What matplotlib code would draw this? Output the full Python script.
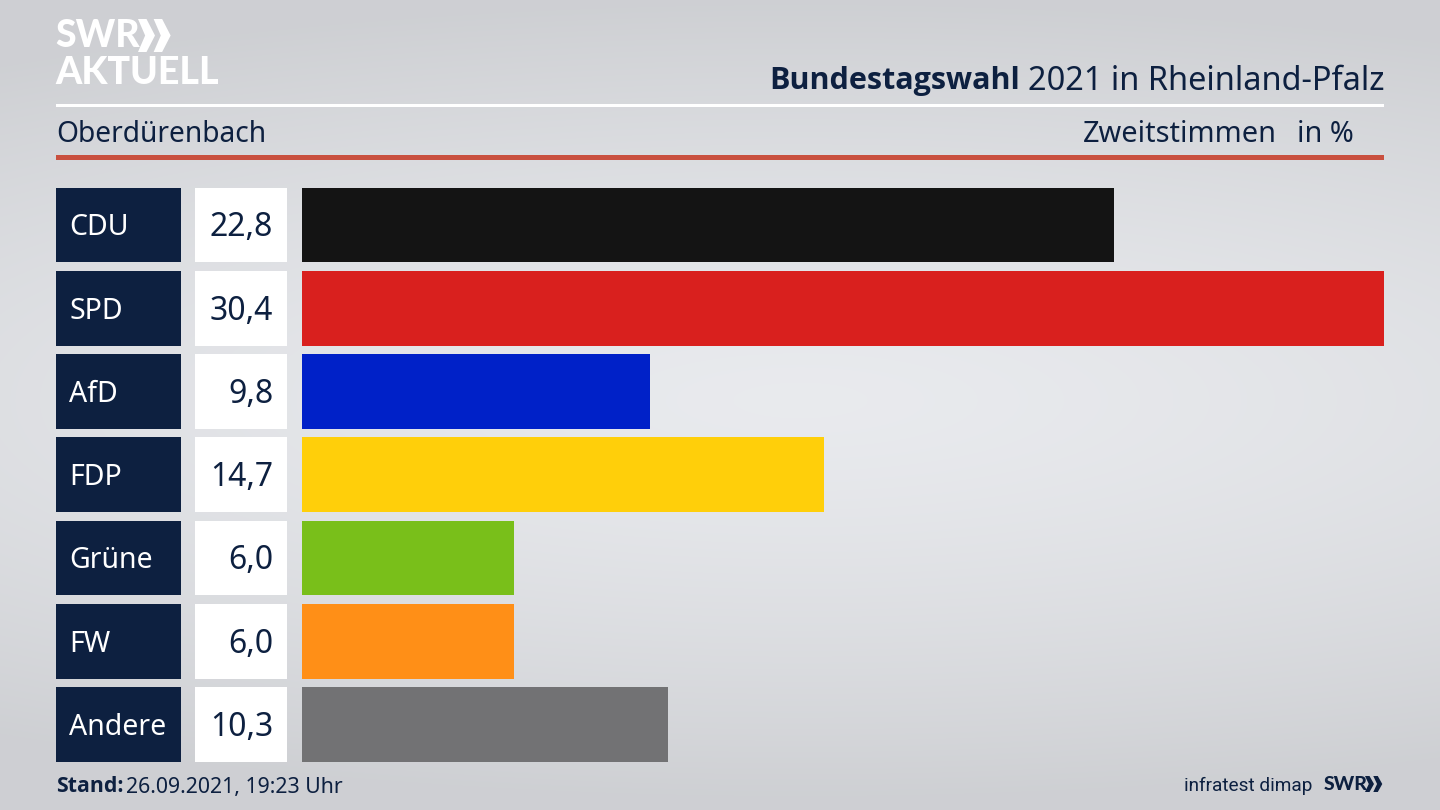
import numpy as np
import matplotlib
matplotlib.use("Agg")
import matplotlib.pyplot as plt
from matplotlib.patches import Polygon, Rectangle

parties = ["CDU", "SPD", "AfD", "FDP", "Grüne", "FW", "Andere"]
values = [22.82, 30.4, 9.78, 14.66, 5.96, 5.96, 10.3]
colors = ["#141414", "#d9201e", "#0021c8", "#ffcf0a", "#79bf1a", "#ff8f17", "#727274"]

W, H = 1440, 810
NAVY = "#0d2040"
plt.rcParams["font.family"] = ["Noto Sans", "DejaVu Sans"]

fig = plt.figure(figsize=(W / 100, H / 100), dpi=100)


def px_axes(x0, y0, x1, y1):
    # axes from pixel box, y counted from the top
    return fig.add_axes([x0 / W, 1 - y1 / H, (x1 - x0) / W, (y1 - y0) / H])


# background + header live in a pixel sized axes
bg = px_axes(0, 0, W, H)
bg.set_xlim(0, W)
bg.set_ylim(H, 0)
bg.axis("off")
yy, xx = np.mgrid[0:H, 0:W]
dist = np.sqrt(((xx - 800) / 1500) ** 2 + ((yy - 400) / 400) ** 2)
shade = 0.925 - 0.105 * np.clip(dist, 0, 1) ** 1.4
bg.imshow(np.dstack([shade - 0.012, shade - 0.006, shade + 0.008]).clip(0, 1),
          extent=(0, W, H, 0), aspect="auto", zorder=0)

bg.add_patch(Rectangle((56, 104), 1328, 3, color="white", lw=0))
bg.add_patch(Rectangle((56, 155), 1328, 5, color="#c9503f", lw=0))

# logo
bg.text(55, 36, "SWR", color="white", fontsize=27, fontweight="black", family="Lato",
        va="center", ha="left")
bg.text(55, 73, "AKTUELL", color="white", fontsize=27, fontweight="black", family="Lato",
        va="center", ha="left")


def chevrons(x, y, h, w, color):
    for dx in (0, w * 0.92):
        bg.add_patch(Polygon([(x + dx, y), (x + dx + w * 0.5, y), (x + dx + w, y + h / 2),
                              (x + dx + w * 0.5, y + h), (x + dx, y + h),
                              (x + dx + w * 0.42, y + h / 2)], color=color, lw=0))


chevrons(138, 19, 33, 17, "white")
chevrons(1365, 776, 16, 9, NAVY)

# header text
bg.text(1384, 81, "2021 in Rheinland-Pfalz", color=NAVY, fontsize=23.4, ha="right", va="center")
bg.text(1020, 81, "Bundestagswahl", color=NAVY, fontsize=22, fontweight="bold", family="Open Sans",
        ha="right", va="center")
bg.text(56, 134, "Oberdürenbach", color=NAVY, fontsize=20.3, ha="left", va="center")
bg.text(1277, 135, "Zweitstimmen", color=NAVY, fontsize=20.8, ha="right", va="center")
bg.text(1354, 135, "in %", color=NAVY, fontsize=20.8, ha="right", va="center")

# footer
bg.text(56, 787, "Stand:", color=NAVY, fontsize=15.3, fontweight="bold", family="Open Sans",
        ha="left", va="center")
bg.text(126, 787, "26.09.2021, 19:23 Uhr", color=NAVY, fontsize=15.3, ha="left", va="center")
bg.text(1312, 786, "infratest dimap", color=NAVY, fontsize=13.7, family="Roboto", ha="right", va="center")
bg.text(1324, 785, "SWR", color=NAVY, fontsize=14, fontweight="black", family="Lato", ha="left", va="center")

y = np.arange(len(parties))

# party names
ax_names = px_axes(56, 187.5, 181, 762)
ax_names.barh(y, [1] * len(y), height=0.9, color=NAVY)
for i, name in zip(y, parties):
    ax_names.text(0.105, i + 0.035, name, color="white", fontsize=20.5, va="center", ha="left")

# value boxes
ax_vals = px_axes(195, 187.5, 287, 762)
ax_vals.barh(y, [1] * len(y), height=0.9, color="white")
for i, v in zip(y, values):
    ax_vals.text(0.85, i + 0.035, f"{v:.1f}".replace(".", ","), color=NAVY, fontsize=23, va="center", ha="right")

# bars
ax = px_axes(301.5, 187.5, 1384, 762)
ax.barh(y, values, height=0.9, color=colors)
ax.set_xlim(0, max(values))

for a in (ax_names, ax_vals, ax):
    a.set_ylim(len(y) - 1 + 0.45, -0.45)
    a.axis("off")
ax_names.set_xlim(0, 1)
ax_vals.set_xlim(0, 1)

fig.savefig("out.png", dpi=100)
plt.close(fig)
